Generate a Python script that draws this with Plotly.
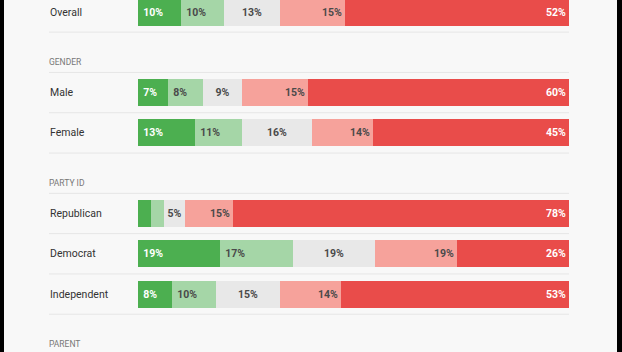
import plotly.graph_objects as go

# ---- data ----
slots = ["Overall", "GENDER", "Male", "Female", "PARTY ID",
         "Republican", "Democrat", "Independent", "PARENT"]
headers = ["GENDER", "PARTY ID", "PARENT"]
rows = ["Overall", "Male", "Female", "Republican", "Democrat", "Independent"]

strongly_support = [10, 7, 13, 3, 19, 8]
somewhat_support = [10, 8, 11, 3, 17, 10]
neutral = [13, 9, 16, 5, 19, 15]
somewhat_oppose = [15, 15, 14, 11, 19, 14]
strongly_oppose = [52, 60, 45, 78, 26, 53]

strongly_support_lbl = ["10%", "7%", "13%", "", "19%", "8%"]
somewhat_support_lbl = ["10%", "8%", "11%", "", "17%", "10%"]
neutral_lbl = ["13%", "9%", "16%", "5%", "19%", "15%"]
somewhat_oppose_lbl = ["15%", "15%", "14%", "15%", "19%", "14%"]
strongly_oppose_lbl = ["52%", "60%", "45%", "78%", "26%", "53%"]

series = [
    (strongly_support, strongly_support_lbl, "#4caf50", "white", "start"),
    (somewhat_support, somewhat_support_lbl, "#a5d6a7", "#4a4a4a", "start"),
    (neutral, neutral_lbl, "#e8e8e8", "#4a4a4a", "middle"),
    (somewhat_oppose, somewhat_oppose_lbl, "#f6a29b", "#4a4a4a", "end"),
    (strongly_oppose, strongly_oppose_lbl, "#e94c4a", "white", "end"),
]

totals = [sum(s[0][i] for s in series) for i in range(len(rows))]

W, H = 622, 352
FONT = "Roboto"

fig = go.Figure()
for vals, lbls, color, tcolor, anchor in series:
    shares = [v / t * 100 for v, t in zip(vals, totals)]
    pad = "\u2009" if anchor == "start" else ""
    fig.add_trace(go.Bar(
        y=rows, x=shares, orientation="h",
        marker=dict(color=color, line=dict(width=0)),
        width=0.67,
        text=[pad + l for l in lbls],
        textposition="inside", insidetextanchor=anchor, textangle=0,
        textfont=dict(family=FONT, size=10.5, color=tcolor, weight="bold"),
        hoverinfo="skip", showlegend=False,
    ))

pitch = 40.3
top_center = 12
y_top = -top_center / pitch
y_bot = (H - top_center) / pitch

shapes = []
# separators at half-slot boundaries
for k in range(len(slots) - 1):
    shapes.append(dict(type="line", xref="paper", yref="y",
                       x0=49 / W, x1=569 / W, y0=k + 0.5, y1=k + 0.5,
                       line=dict(color="#e6e6e6", width=1), layer="below"))
# black screenshot edges
shapes.append(dict(type="rect", xref="paper", yref="paper", x0=0, x1=4 / W,
                   y0=0, y1=1, fillcolor="black", line=dict(width=0)))
shapes.append(dict(type="rect", xref="paper", yref="paper", x0=617 / W, x1=1,
                   y0=0, y1=1, fillcolor="black", line=dict(width=0)))

annotations = []
for r in rows:
    annotations.append(dict(x=48 / W, xref="paper", y=r, yref="y",
                            text=r, showarrow=False, xanchor="left",
                            font=dict(family=FONT, size=10.5, color="#333333")))
for h in headers:
    annotations.append(dict(x=47 / W, xref="paper", y=h, yref="y", yshift=-10,
                            text=h, showarrow=False, xanchor="left",
                            font=dict(family=FONT, size=8.5, color="#777777")))

fig.update_layout(
    width=W, height=H, margin=dict(l=0, r=0, t=0, b=0),
    barmode="stack", bargap=0,
    paper_bgcolor="#f8f8f8", plot_bgcolor="#f8f8f8",
    xaxis=dict(domain=[138 / W, 569 / W], range=[0, 100], visible=False,
               fixedrange=True),
    yaxis=dict(type="category", categoryorder="array", categoryarray=slots,
               range=[y_bot, y_top], visible=False, fixedrange=True),
    shapes=shapes, annotations=annotations,
)

fig.write_html("out.html")
